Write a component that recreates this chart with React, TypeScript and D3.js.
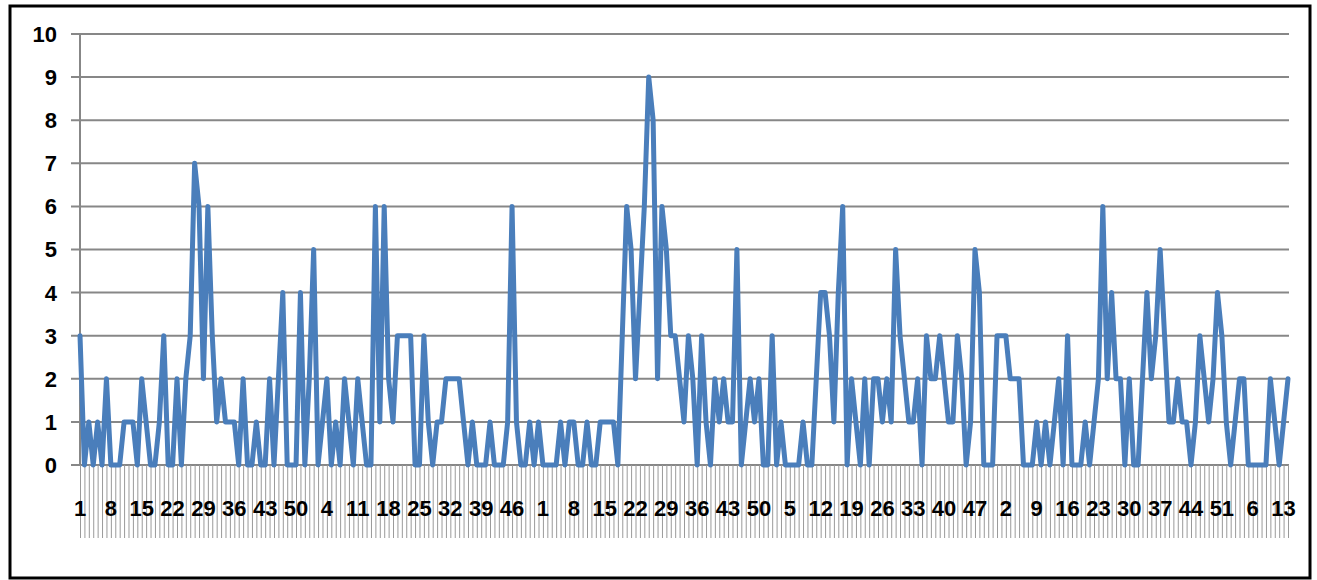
import React, { useEffect, useRef } from 'react';
import * as d3 from 'd3';

// weekly counts, one list per year, week 1 .. last week of that year
const year1 = [3, 0, 1, 0, 1, 0, 2, 0, 0, 0, 1, 1, 1, 0, 2, 1, 0, 0, 1, 3, 0, 0, 2, 0, 2, 3, 7, 6, 2, 6, 3, 1, 2, 1, 1, 1, 0, 2, 0, 0, 1, 0, 0, 2, 0, 2, 4, 0, 0, 0, 4, 0, 2];
const year2 = [5, 0, 1, 2, 0, 1, 0, 2, 1, 0, 2, 1, 0, 0, 6, 1, 6, 2, 1, 3, 3, 3, 3, 0, 0, 3, 1, 0, 1, 1, 2, 2, 2, 2, 1, 0, 1, 0, 0, 0, 1, 0, 0, 0, 1, 6, 1, 0, 0, 1, 0, 1];
const year3 = [0, 0, 0, 0, 1, 0, 1, 1, 0, 0, 1, 0, 0, 1, 1, 1, 1, 0, 3, 6, 5, 2, 4, 6, 9, 8, 2, 6, 5, 3, 3, 2, 1, 3, 2, 0, 3, 1, 0, 2, 1, 2, 1, 1, 5, 0, 1, 2, 1, 2, 0, 0];
const year4 = [3, 0, 1, 0, 0, 0, 0, 1, 0, 0, 2, 4, 4, 3, 1, 4, 6, 0, 2, 1, 0, 2, 0, 2, 2, 1, 2, 1, 5, 3, 2, 1, 1, 2, 0, 3, 2, 2, 3, 2, 1, 1, 3, 2, 0, 1, 5, 4, 0, 0, 0, 3];
const year5 = [3, 3, 2, 2, 2, 0, 0, 0, 1, 0, 1, 0, 1, 2, 0, 3, 0, 0, 0, 1, 0, 1, 2, 6, 2, 4, 2, 2, 0, 2, 0, 0, 2, 4, 2, 3, 5, 3, 1, 1, 2, 1, 1, 0, 1, 3, 2, 1, 2, 4, 3, 1];
const year6 = [0, 1, 2, 2, 0, 0, 0, 0, 0, 2, 1, 0, 1, 2];

const years = [year1, year2, year3, year4, year5, year6];
const yTicks = [0, 1, 2, 3, 4, 5, 6, 7, 8, 9, 10];
const labelStep = 7;

function Chart () {
  const ref = useRef(null);

  useEffect(() => {
    const width = 1317;
    const height = 580;

    // flatten the years, the week number is the category label
    var values = [];
    var weeks = [];
    years.forEach(function(yr) {
      yr.forEach(function(v, i) {
        values.push(v);
        weeks.push(i + 1);
      });
    });
    const idx = d3.range(values.length);

    const svg = d3.select(ref.current)
      .append('svg')
      .attr('width', width)
      .attr('height', height)
      .style('position', 'absolute')
      .style('left', 0)
      .style('top', 0)
      .style('background', '#fff');

    var x = d3.scalePoint()
      .domain(idx)
      .range([80, 1288]);

    var y = d3.scaleLinear()
      .domain([0, 10])
      .range([465, 34]);

    const grey = '#878787';
    const font = '"Liberation Sans", Arial, sans-serif';

    // gridlines (they stick out left as tick marks)
    svg.append('g')
      .selectAll('line')
      .data(yTicks)
      .enter().append('line')
        .attr('x1', 71)
        .attr('x2', 1289)
        .attr('y1', d => y(d))
        .attr('y2', d => y(d))
        .attr('stroke', grey)
        .attr('stroke-width', 2);

    // y axis line
    svg.append('line')
      .attr('x1', x(0)).attr('x2', x(0))
      .attr('y1', y(10)).attr('y2', y(0))
      .attr('stroke', grey)
      .attr('stroke-width', 2);

    // long category ticks under the axis
    svg.append('g')
      .selectAll('line')
      .data(idx)
      .enter().append('line')
        .attr('x1', d => x(d) + 0.5)
        .attr('x2', d => x(d) + 0.5)
        .attr('y1', y(0))
        .attr('y2', 538)
        .attr('stroke', '#9a9a9a')
        .attr('stroke-width', 1);

    // y labels
    svg.append('g')
      .selectAll('text')
      .data(yTicks)
      .enter().append('text')
        .attr('x', 57)
        .attr('y', d => y(d))
        .attr('dy', '0.36em')
        .attr('text-anchor', 'end')
        .style('font-family', font)
        .style('font-weight', 'bold')
        .style('font-size', '22px')
        .text(d => d);

    // x labels, every 7th week
    svg.append('g')
      .selectAll('text')
      .data(idx.filter(i => i % labelStep === 0))
      .enter().append('text')
        .attr('x', d => x(d))
        .attr('y', 516)
        .attr('text-anchor', 'middle')
        .style('font-family', font)
        .style('font-weight', 'bold')
        .style('font-size', '22px')
        .text(d => weeks[d]);

    // the series
    const line = d3.line()
      .x((d, i) => x(i))
      .y(d => y(d));

    svg.append('path')
      .datum(values)
      .attr('d', line)
      .attr('fill', 'none')
      .attr('stroke', '#4a7ebb')
      .attr('stroke-width', 5)
      .attr('stroke-linejoin', 'round')
      .attr('stroke-linecap', 'round');

    // outer frame
    svg.append('rect')
      .attr('x', 10)
      .attr('y', 6)
      .attr('width', 1300)
      .attr('height', 572)
      .attr('fill', 'none')
      .attr('stroke', '#000')
      .attr('stroke-width', 3);

    return () => { d3.select(ref.current).selectAll('*').remove(); };
  }, []);

  return (
    <div ref={ref}></div>
  );
}

export default function App () {
  return <Chart />;
}
